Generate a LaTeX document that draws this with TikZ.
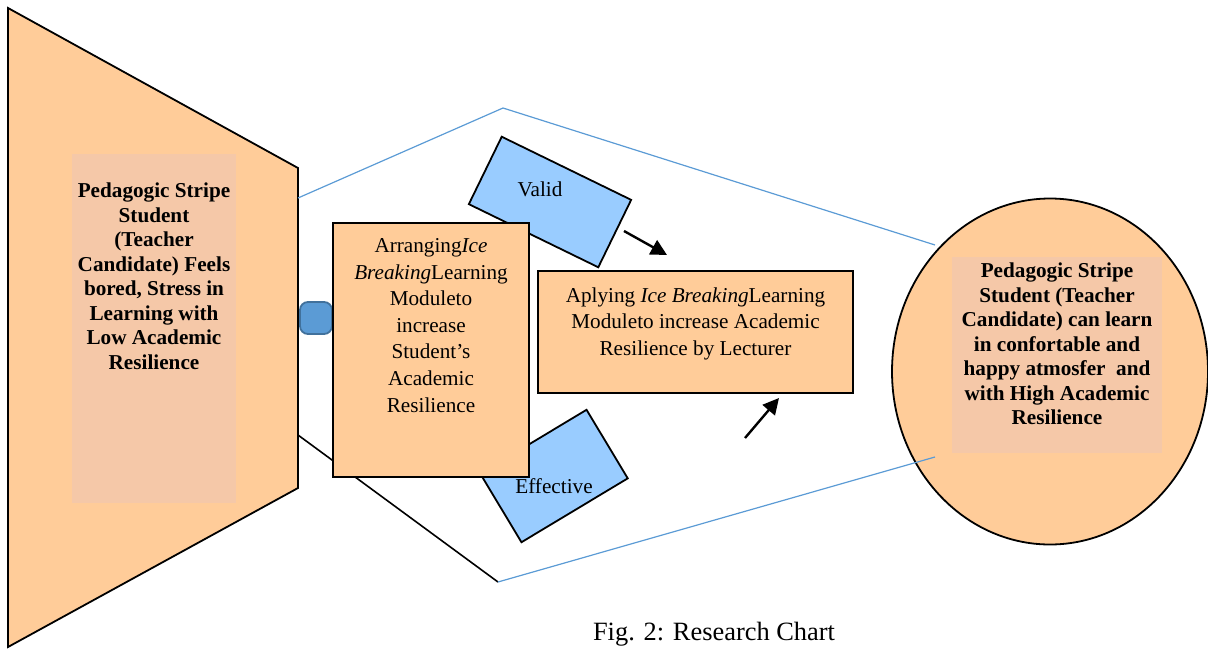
\documentclass[tikz,border=0pt]{standalone}
\usepackage{fontspec}
\setmainfont{Liberation Serif}
\usetikzlibrary{arrows.meta,positioning,shapes.geometric}

\definecolor{peach}{HTML}{FFCC99}
\definecolor{peachsoft}{HTML}{F5C8A8}
\definecolor{skyfill}{HTML}{99CCFF}
\definecolor{hullblue}{HTML}{5B9BD5}
\definecolor{plugfill}{HTML}{5B9BD5}
\definecolor{plugedge}{HTML}{41719C}

\begin{document}
\begin{tikzpicture}[
  x=0.5pt, y=-0.5pt,
  font=\fontsize{10.6}{13.3}\selectfont,
  >={Triangle[length=8pt,width=8pt]},
  box/.style={draw, line width=0.9pt, fill=peach, inner sep=0pt},
  shade/.style={fill=peachsoft, inner sep=0pt},
  tag/.style={draw, line width=0.9pt, fill=skyfill, inner sep=0pt},
  plug/.style={draw=plugedge, line width=0.9pt, fill=plugfill, rounded corners=4pt, inner sep=0pt, minimum width=16pt, minimum height=16pt},
  goal/.style={ellipse, draw, line width=0.9pt, fill=peach, inner sep=0pt},
  txt/.style={align=center, inner sep=0pt},
  bold/.style={txt, font=\fontsize{10.6}{12.25}\selectfont\bfseries},
  hull/.style={draw=hullblue, line width=0.6pt},
  push/.style={->, line width=1.2pt}
]
\useasboundingbox (0,0) rectangle (1208,648);

% funnel on the left
\draw[line width=0.9pt, fill=peach] (8,8) -- (298,168) -- (298,488) -- (8,647) -- cycle;
\coordinate (edgeup) at (298,198);
\coordinate (edgedown) at (298,435);

% target ellipse on the right
\node[goal, minimum width=158pt, minimum height=173pt] (goal) at (1050,371.5) {};
\coordinate (ringup) at (935,245);
\coordinate (ringdown) at (935,457);

% hull lines round the middle part
\coordinate (apex) at (503,108);
\coordinate (base) at (498,582);
\draw[hull] (edgeup) -- (apex) -- (ringup);
\draw[line width=0.8pt] (edgedown) -- (base);
\draw[hull] (base) -- (ringdown);

\node[shade, minimum width=82pt, minimum height=174.5pt] (lowbg) at (154,328.5) {};
\node[bold, below=14.5pt of lowbg.north] (low) {Pedagogic Stripe\\Student\\(Teacher\\Candidate) Feels\\bored, Stress in\\Learning with\\Low Academic\\Resilience};

\node[shade, minimum width=105pt, minimum height=98pt] (highbg) at (1057,355) {};
\node[bold, below=3pt of highbg.north] (high) {Pedagogic Stripe\\Student (Teacher\\Candidate) can learn\\in confortable and\\happy atmosfer~ and\\with High Academic\\Resilience};

\node[plug] (plug) at (316,318) {};

% tilted labels
\node[tag, rotate=-26, minimum width=72pt, minimum height=37.5pt] (valid) at (550,202) {};
\node[tag, rotate=31, minimum width=62pt, minimum height=40pt] (effective) at (554,476) {};
\node[txt] (validtxt) at (540,189) {Valid};

\node[box, minimum width=98pt, minimum height=127pt] (arrange) at (431,350) {};
\node[txt, below=8pt of arrange.north] (arrangetxt) {Arranging\textit{Ice}\\\textit{Breaking}Learning\\Moduleto\\increase\\Student’s\\Academic\\Resilience};
\node[txt] (efftxt) at (554,486) {Effective};

\node[box, minimum width=157.5pt, minimum height=61pt] (apply) at (695.5,332) {};
\node[txt, below=8.5pt of apply.north] (applytxt) {Aplying \textit{Ice Breaking}Learning\\Moduleto increase Academic\\Resilience by Lecturer};

% arrows into the lecturer box
\coordinate (fromvalid) at (624,231);
\coordinate (tovalid) at (667,255);
\coordinate (fromeff) at (745,438);
\coordinate (toeff) at (779,398);
\draw[push] (fromvalid) -- (tovalid);
\draw[push] (fromeff) -- (toeff);

\node[font=\fontsize{13.2}{15}\selectfont] (caption) at (714,634) {Fig. 2: Research Chart};

\end{tikzpicture}
\end{document}
